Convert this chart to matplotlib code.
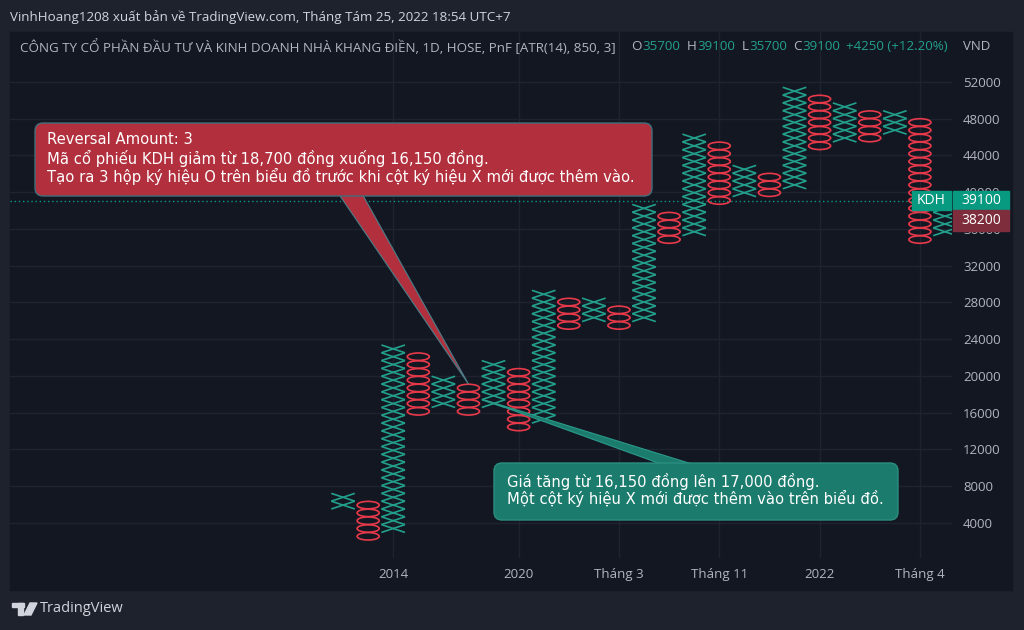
import numpy as np
import matplotlib.pyplot as plt
from matplotlib.collections import LineCollection
from matplotlib.patches import Ellipse, FancyBboxPatch, Polygon, Rectangle

plt.rcParams['font.family'] = ['Open Sans', 'DejaVu Sans']

# point & figure columns (box size 850, reversal 3)
box = 850
col_type = ['X', 'O', 'X', 'O', 'X', 'O', 'X', 'O', 'X', 'O', 'X', 'O', 'X',
            'O', 'X', 'O', 'X', 'O', 'X', 'O', 'X', 'O', 'X', 'O', 'X']
col_low = [5950, 2550, 3400, 16150, 17000, 16150, 17000, 14450, 15300, 25500,
           26350, 25500, 26350, 34850, 35700, 39100, 39950, 39950, 40800,
           45050, 45900, 45900, 46750, 34850, 35700]
col_high = [6800, 5950, 22950, 22100, 19550, 18700, 21250, 20400, 28900,
            28050, 28050, 27200, 38250, 37400, 45900, 45050, 42500, 41650,
            51000, 50150, 49300, 48450, 48450, 47600, 39100]

time_idx = [2, 7, 11, 15, 19, 23]
time_labels = ['2014', '2020', 'Tháng 3', 'Tháng 11', '2022', 'Tháng 4']
price_ticks = [4000, 8000, 12000, 16000, 20000, 24000, 28000, 32000,
               36000, 40000, 44000, 48000, 52000]

last_price = 39100
reversal_price = 38200
ohlc = [35700, 39100, 35700, 39100]
change = 4250
change_pct = 12.20

bg = '#131722'
outer = '#1e222d'
green = '#22a08c'
red = '#e8394a'
txt = '#b2b5be'
cfont = ['DejaVu Sans']

fig = plt.figure(figsize=(10.24, 6.3), dpi=100, facecolor=outer)
W, H = 1024, 630
fig.patches.append(Rectangle((10 / W, 1 - 590 / H), 1002 / W, 558 / H,
                             transform=fig.transFigure, color=bg, zorder=-5))

ax = fig.add_axes([10 / W, 1 - 558 / H, 942 / W, 526 / H])
ax.set_facecolor('none')
ax.set_xlim(-13.28, 24.28)
ax.set_ylim(190, 57442)
for s in ax.spines.values():
    s.set_visible(False)

# X and O boxes
segs = []
for i, t in enumerate(col_type):
    n = int(round((col_high[i] - col_low[i]) / box)) + 1
    for k in range(n):
        p = col_low[i] + k * box
        if t == 'X':
            segs.append([(i - 0.47, p - box / 2), (i + 0.47, p + box / 2)])
            segs.append([(i - 0.47, p + box / 2), (i + 0.47, p - box / 2)])
        else:
            ax.add_patch(Ellipse((i, p), 0.88, box * 0.95, fill=False,
                                 ec=red, lw=1.2, zorder=3))
ax.add_collection(LineCollection(segs, colors=green, lw=1.2, zorder=3))

ax.axhline(last_price, color='#089981', lw=1, ls=(0, (1, 2)), zorder=2)

ax.set_yticks(price_ticks)
ax.set_yticklabels([str(v) for v in price_ticks])
ax.yaxis.set_ticks_position('right')
ax.set_xticks(time_idx)
ax.set_xticklabels(time_labels)
ax.tick_params(axis='y', length=0, pad=8, labelsize=9.5, labelcolor=txt)
ax.tick_params(axis='x', length=0, pad=7, labelsize=9.5, labelcolor=txt)
ax.grid(color='#1f2330', lw=1)
ax.set_axisbelow(True)

# overlay in pixel coordinates
ov = fig.add_axes([0, 0, 1, 1])
ov.set_xlim(0, W)
ov.set_ylim(H, 0)
ov.axis('off')
ov.patch.set_alpha(0)


def to_px(x, y):
    d = ax.transData.transform((x, y))
    return ov.transData.inverted().transform(d)


# header
ov.text(10, 17, 'VinhHoang1208 xuất bản về TradingView.com, Tháng Tám 25, 2022 18:54 UTC+7',
        color='#d1d4dc', fontsize=9.65, va='center')
ov.text(20, 47, 'CÔNG TY CỔ PHẦN ĐẦU TƯ VÀ KINH DOANH NHÀ KHANG ĐIỀN, 1D, HOSE, PnF [ATR(14), 850, 3]',
        color=txt, fontsize=9.6, va='center')
hx = [642, 697, 749, 802]
for lab, v, x in zip('OHLC', ohlc, hx):
    ov.text(x - 0.5, 47, lab, color=txt, fontsize=9.6, va='center', ha='right')
    ov.text(x, 47, str(v), color=green, fontsize=9.6, va='center')
ov.text(846, 47, '+%d (+%.2f%%)' % (change, change_pct), color=green,
        fontsize=9.6, va='center')
ov.text(963, 47, 'VND', color=txt, fontsize=9.5, va='center')

# price labels
ax_r = to_px(ax.get_xlim()[1], last_price)
yl = ax_r[1]
ov.add_patch(Rectangle((912, yl - 10), 39, 19, color='#089981', zorder=5))
ov.text(931, yl, 'KDH', color='white', fontsize=10, ha='center', va='center', zorder=6)
ov.add_patch(Rectangle((953, yl - 10), 56, 19, color='#089981', zorder=5))
ov.text(981, yl, str(last_price), color='white', fontsize=10, ha='center', va='center', zorder=6)
ov.add_patch(Rectangle((953, yl + 9), 56, 21, color='#7d2d3c', zorder=5))
ov.text(981, yl + 19.5, str(reversal_price), color='white', fontsize=10,
        ha='center', va='center', zorder=6)

# red callout
tip = to_px(5, 18700 + box / 2)
ov.add_patch(Polygon([(336, 190), (360, 190), tuple(tip)], closed=True,
                     fc='#b2303d', ec='#4a7f8a', lw=0.8, zorder=7))
ov.add_patch(FancyBboxPatch((35, 123), 617, 73, boxstyle='round,pad=0,rounding_size=8',
                            fc='#b2303d', ec='#3f6f7a', lw=1, zorder=8))
red_lines = ['Reversal Amount: 3',
             'Mã cổ phiếu KDH giảm từ 18,700 đồng xuống 16,150 đồng.',
             'Tạo ra 3 hộp ký hiệu O trên biểu đồ trước khi cột ký hiệu X mới được thêm vào.']
for j, s in enumerate(red_lines):
    ov.text(47, 140 + j * 18, s, color='white', fontsize=10.6, va='center',
            family=cfont, zorder=9)

# green callout
tip2 = to_px(5.6, 17000 + box / 2)
ov.add_patch(Polygon([tuple(tip2), (672, 468), (705, 468)], closed=True,
                     fc='#1b7b6d', ec='#2a9a8a', lw=0.8, zorder=7))
ov.add_patch(FancyBboxPatch((494, 463), 404, 57, boxstyle='round,pad=0,rounding_size=8',
                            fc='#1b7b6d', ec='#2a8f80', lw=1, zorder=8))
green_lines = ['Giá tăng từ 16,150 đồng lên 17,000 đồng.',
               'Một cột ký hiệu X mới được thêm vào trên biểu đồ.']
for j, s in enumerate(green_lines):
    ov.text(507, 481 + j * 17.5, s, color='white', fontsize=10.6, va='center',
            family=cfont, zorder=9)

# logo
ov.add_patch(Rectangle((12, 603), 12, 4, color='#d1d4dc'))
ov.add_patch(Rectangle((18, 603), 5, 12, color='#d1d4dc'))
ov.add_patch(Polygon([(30, 603), (37, 603), (31, 615), (24, 615)], closed=True, color='#d1d4dc'))
ov.text(40, 609, 'TradingView', color='#d1d4dc', fontsize=10.5, va='center')

fig.savefig('out.png', dpi=100, facecolor=outer)
